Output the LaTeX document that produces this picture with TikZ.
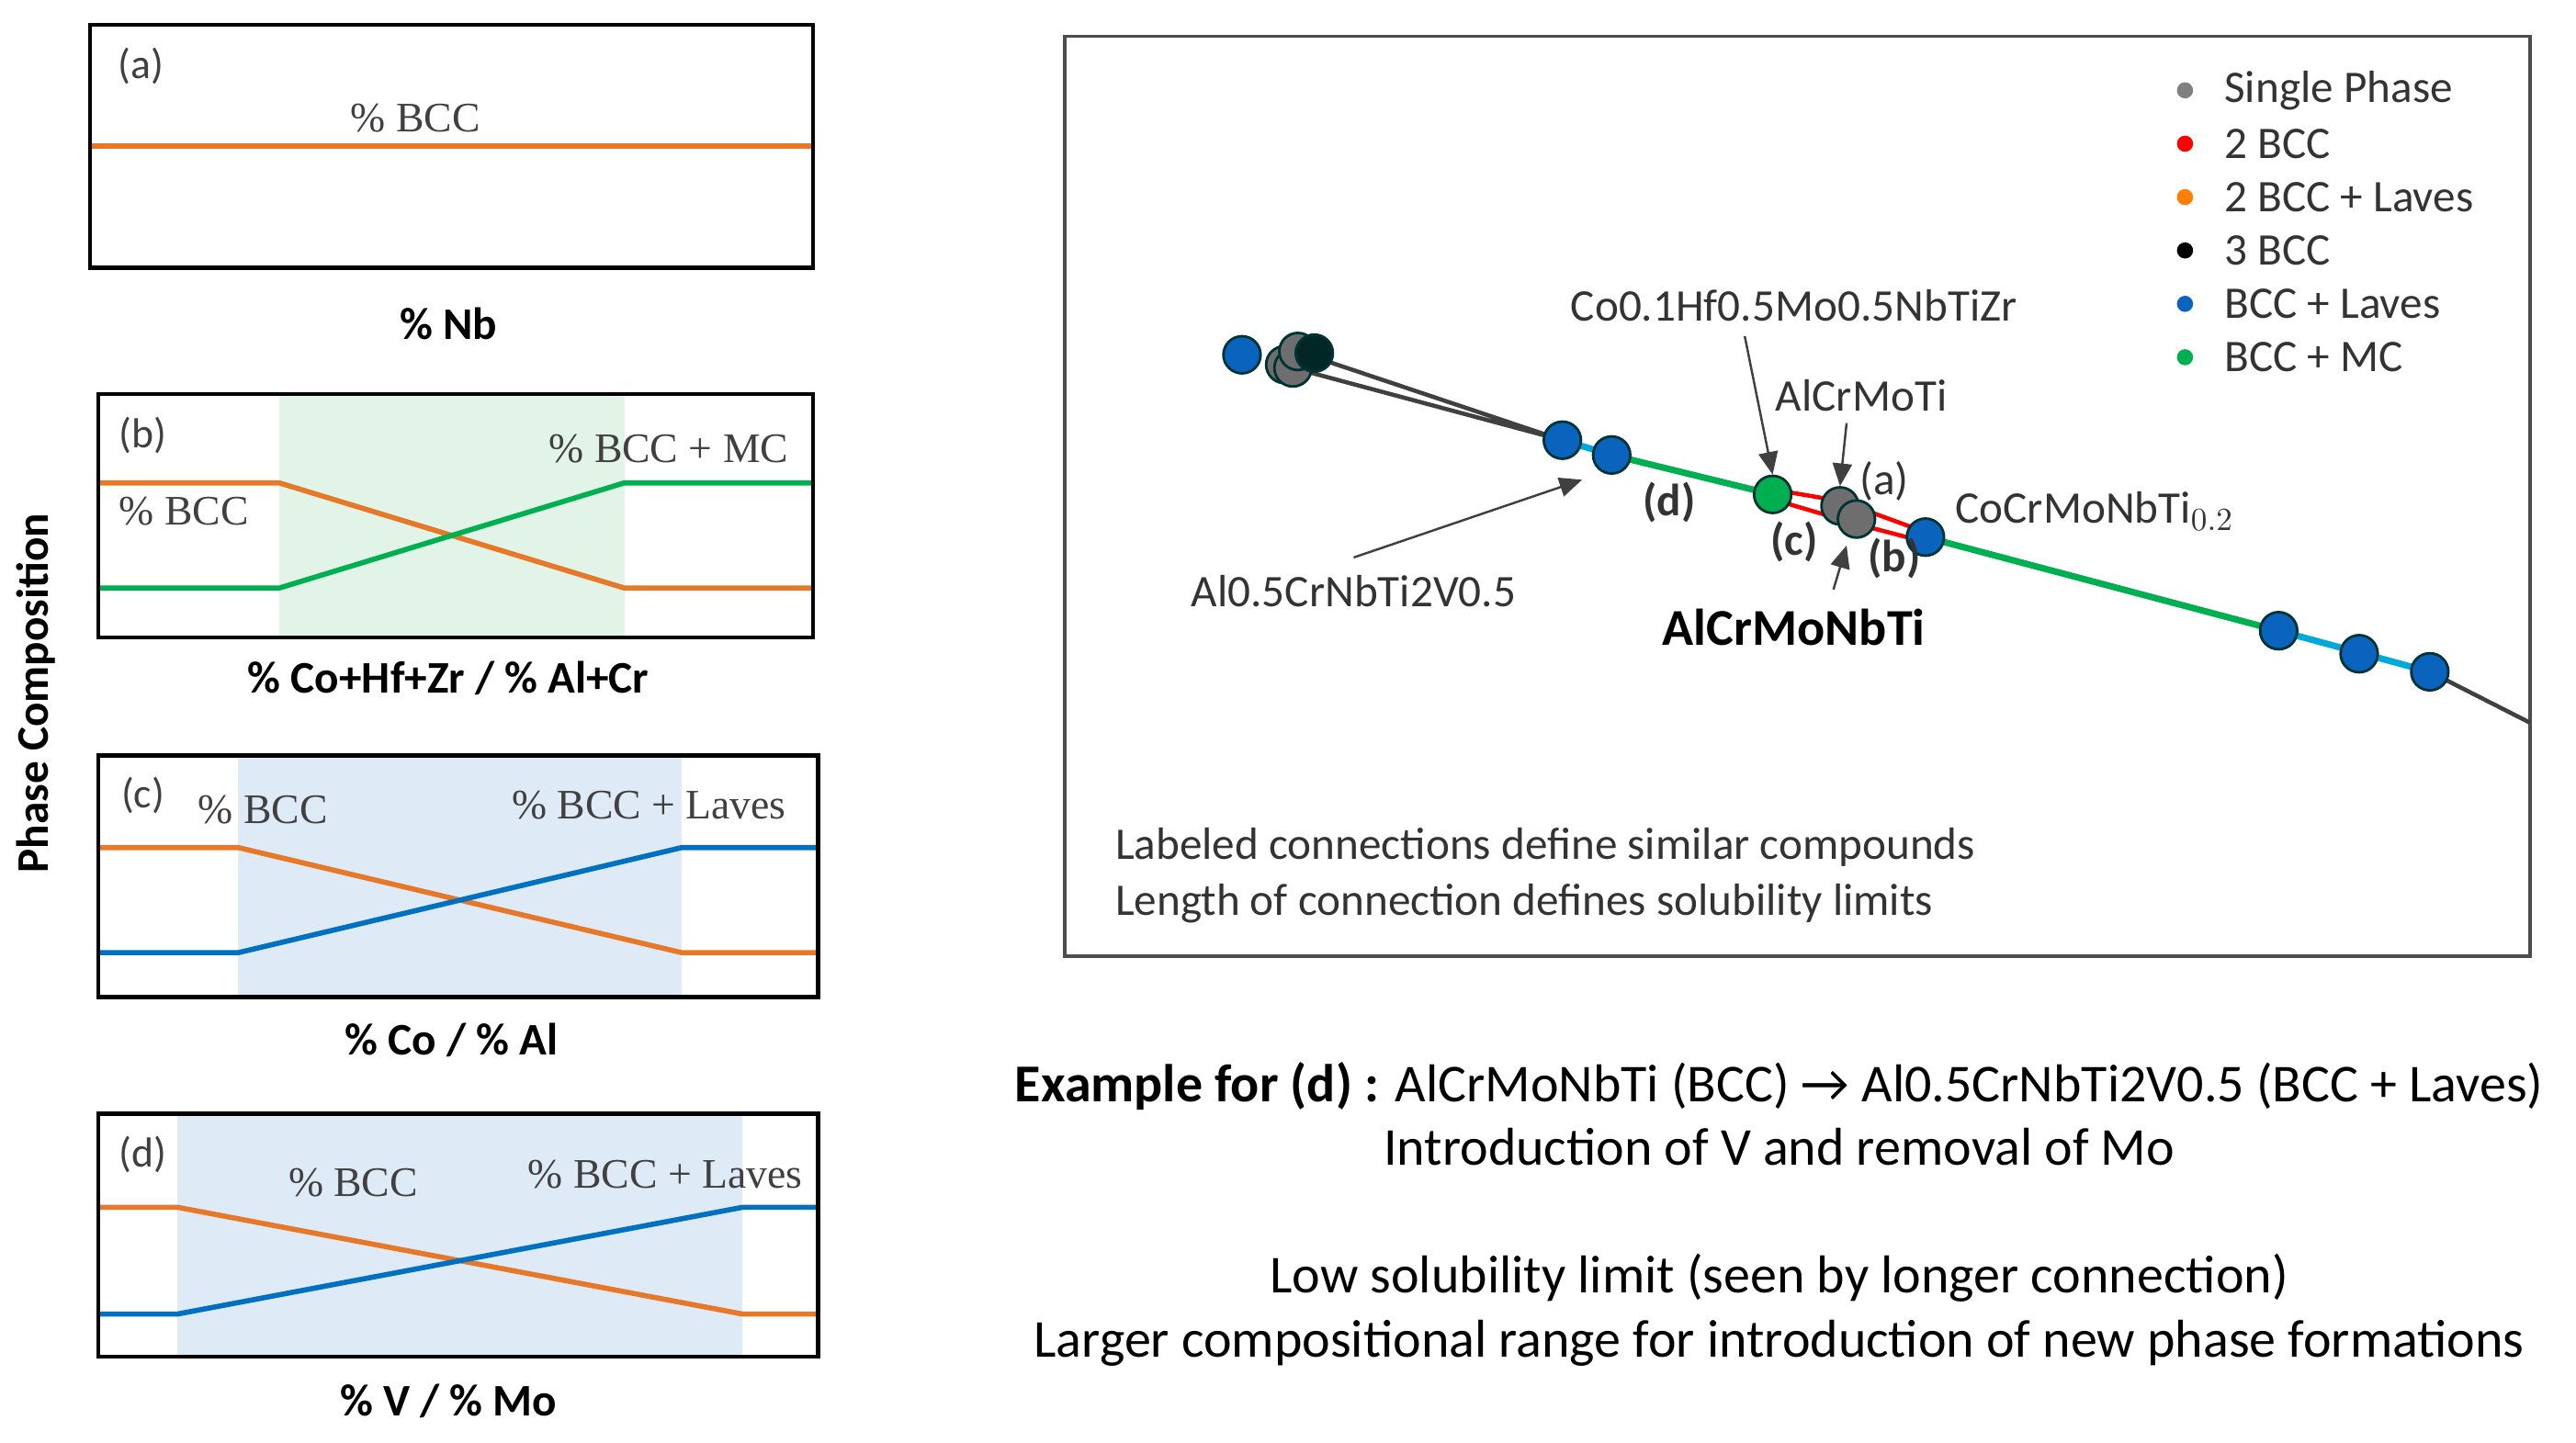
\documentclass[tikz,border=0pt]{standalone}
\usepackage{fontspec}
\setmainfont{Carlito}
\newfontfamily\tms{Liberation Serif}
\usepackage{tikz}
\usetikzlibrary{arrows.meta,positioning,calc}
\definecolor{orn}{RGB}{230,120,40}
\definecolor{grn}{RGB}{0,176,80}
\definecolor{blu}{RGB}{0,112,192}
\definecolor{dotblu}{RGB}{10,100,190}
\definecolor{dotgry}{RGB}{110,110,110}
\definecolor{shgrn}{RGB}{226,243,231}
\definecolor{shblu}{RGB}{222,235,247}
\tikzset{
  panel/.style={draw=black,line width=1.2pt},
  oline/.style={orn,line width=1.6pt},
  gline/.style={grn,line width=1.6pt},
  bline/.style={blu,line width=1.6pt},
  ser/.style={font=\tms\fontsize{13}{15}\selectfont,text=black!75},
  plab/.style={font=\fontsize{13}{15}\selectfont,text=black!75},
  axlab/.style={font=\bfseries\fontsize{14}{16}\selectfont},
  dot/.style={circle,draw=black!60!teal,line width=0.8pt,minimum size=11.5pt,inner sep=0pt},
  txt/.style={font=\fontsize{14}{16}\selectfont,text=black!80},
  big/.style={font=\fontsize{16.5}{19}\selectfont},
  pt/.style={-{Triangle[length=7pt,width=6pt]},black!75,line width=0.7pt},
  leg/.style={circle,inner sep=0pt,minimum size=5pt}
}
\begin{document}
\begin{tikzpicture}[x=0.017883cm,y=-0.017883cm]
\useasboundingbox (0,0) rectangle (1568,878);
% panel (a)
\draw[oline] (55,89) -- (495,89);
\draw[panel] (55,15) rectangle (495,163);
\node[plab] at (86,40) {(a)};
\node[ser] at (253,72) {\% BCC};
\node[axlab] at (273,197) {\% Nb};
% panel (b)
\fill[shgrn] (170,240) rectangle (380,388);
\draw[oline] (60,294) -- (170,294) -- (380,358) -- (495,358);
\draw[gline] (60,358) -- (170,358) -- (380,294) -- (495,294);
\draw[panel] (60,240) rectangle (495,388);
\node[plab] at (87,265) {(b)};
\node[ser] at (112,311) {\% BCC};
\node[ser] at (407,273) {\% BCC + MC};
\node[axlab] at (273,413) {\% Co+Hf+Zr / \% Al+Cr};
% panel (c)
\fill[shblu] (145,460) rectangle (415,607);
\draw[oline] (60,516) -- (145,516) -- (415,580) -- (498,580);
\draw[bline] (60,580) -- (145,580) -- (415,516) -- (498,516);
\draw[panel] (60,460) rectangle (498,607);
\node[plab] at (87,484) {(c)};
\node[ser] at (160,493) {\% BCC};
\node[ser] at (395,490) {\% BCC + Laves};
\node[axlab] at (275,633) {\% Co / \% Al};
% panel (d)
\fill[shblu] (108,678) rectangle (452,826);
\draw[oline] (60,735) -- (108,735) -- (452,800) -- (498,800);
\draw[bline] (60,800) -- (108,800) -- (452,735) -- (498,735);
\draw[panel] (60,678) rectangle (498,826);
\node[plab] at (87,703) {(d)};
\node[ser] at (215,720) {\% BCC};
\node[ser] at (405,715) {\% BCC + Laves};
\node[axlab] at (273,853) {\% V / \% Mo};
\node[axlab,rotate=90] at (22,422) {Phase Composition};
% network box
\draw[black!70,line width=1pt] (648,22) rectangle (1540,582);
\foreach \c/\t [count=\i] in {gray/Single Phase,red/2 BCC,orange/2 BCC + Laves,black/3 BCC,dotblu/BCC + Laves,grn/BCC + MC}
  \node[leg,fill=\c,label={[txt,anchor=west,xshift=6pt]east:\t}] (l\i) at (1330,{55+32.5*(\i-1)}) {};
\coordinate (tail) at (1540,440);
\draw[black!75,line width=1.3pt] (790,214) -- (951,268) (787,224) -- (951,268);
\draw[red,line width=1.3pt] (1079,298) -- (1120,305) (1079,304) -- (1130,319)
  (1120,305) -- (1172,324) (1130,319) -- (1172,330);
\draw[gline,line width=2pt] (981,277) -- (1079,301) (1172,327) -- (1387,384);
\draw[blu!60!cyan,line width=2pt] (951,268) -- (981,277) (1387,384) -- (1479,409);
\draw[black!75,line width=1.3pt] (1479,409) -- (tail);
\node[dot,fill=dotblu] (n1) at (756,216) {};
\node[dot,fill=dotgry] (g1) at (782,222) {};
\node[dot,fill=dotgry] (g2) at (787,224) {};
\node[dot,fill=dotgry] (g3) at (790,214) {};
\node[dot,fill=black!70!teal] (k1) at (800,215) {};
\node[dot,fill=dotblu] (b1) at (951,268) {};
\node[dot,fill=dotblu] (b2) at (981,277) {};
\node[dot,fill=grn] (mc) at (1079,301) {};
\node[dot,fill=dotgry] (s1) at (1120,308) {};
\node[dot,fill=dotgry] (s2) at (1130,316) {};
\node[dot,fill=dotblu] (b3) at (1172,327) {};
\node[dot,fill=dotblu] (b4) at (1387,384) {};
\node[dot,fill=dotblu] (b5) at (1436,398) {};
\node[dot,fill=dotblu] (b6) at (1479,409) {};
% labels
\node[txt] (co) at (1092,186) {Co0.1Hf0.5Mo0.5NbTiZr};
\node[txt] (acmt) at (1133,241) {AlCrMoTi};
\node[txt] (ccm) at (1275,311) {CoCrMoNbTi$_{0.2}$};
\node[font=\bfseries\fontsize{16}{18}\selectfont] (acmnt) at (1092,382) {AlCrMoNbTi};
\node[txt] (al) at (824,360) {Al0.5CrNbTi2V0.5};
\node[txt] at (1147,293) {(a)};
\node[txt,font=\bfseries\fontsize{14}{16}\selectfont] at (1016,306) {(d)};
\node[txt,font=\bfseries\fontsize{14}{16}\selectfont] at (1092,330) {(c)};
\node[txt,font=\bfseries\fontsize{14}{16}\selectfont] at (1153,340) {(b)};
\draw[pt] ($(co.south)+(-30,2)$) -- (mc.north);
\draw[pt] ($(acmt.south)+(-9,0)$) -- (s1.north);
\draw[pt] ($(acmnt.north)+(24,-5)$) -- ($(s2.south)+(-6,4)$);
\draw[pt] ($(al.north)+(0,-4)$) -- ($(b1.south)+(12,12)$);
\node[txt,anchor=west] at (672,516) {Labeled connections define similar compounds};
\node[txt,anchor=west] at (672,550) {Length of connection defines solubility limits};
% bottom text
\node[big] at (1083,661) {\textbf{Example for (d) :} AlCrMoNbTi (BCC) → Al0.5CrNbTi2V0.5 (BCC + Laves)};
\node[big] at (1083,698) {Introduction of V and removal of Mo};
\node[big] at (1083,778) {Low solubility limit (seen by longer connection)};
\node[big] at (1083,818) {Larger compositional range for introduction of new phase formations};
\end{tikzpicture}
\end{document}
